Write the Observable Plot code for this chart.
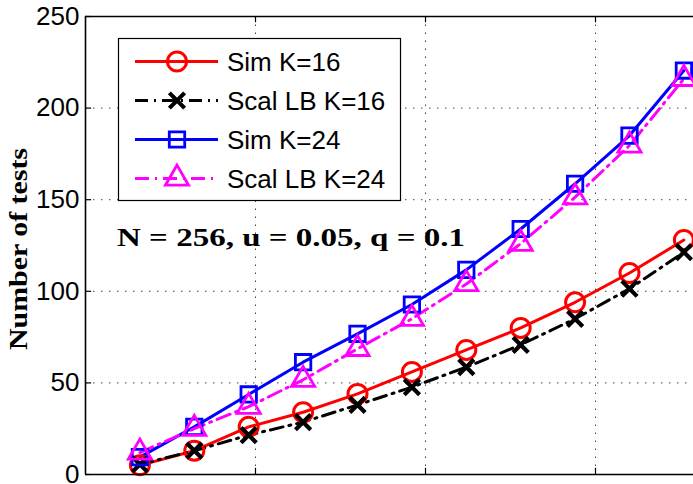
<!DOCTYPE html>
<html><head><meta charset="utf-8">
<script src="https://cdn.jsdelivr.net/npm/d3@7"></script>
<script src="https://cdn.jsdelivr.net/npm/@observablehq/plot@0.6"></script>
<style>body{margin:0;background:#fff;overflow:hidden}</style>
</head><body><div id="chart"></div>
<script>
// ---- data ----
const xs = [0.032, 0.064, 0.096, 0.128, 0.160, 0.192, 0.224, 0.256, 0.288, 0.320, 0.352];
const simK16 = [5, 13, 26, 34, 44, 56, 68, 80, 94, 110, 128];
const lbK16  = [5.5, 13, 21.5, 28.6, 38, 47.7, 58.6, 70.8, 85, 101.4, 121.4];
const simK24 = [9.5, 26, 43.7, 61.3, 76.8, 92.8, 111.7, 134, 158.7, 185, 220.5];
const lbK24  = [12, 25, 37, 51.7, 68.6, 85, 104, 126, 151.4, 179.6, 216];
const seriesNames = ["Sim K=16", "Scal LB K=16", "Sim K=24", "Scal LB K=24"];
const yTicks = [0, 50, 100, 150, 200, 250];
const yGrid = [50, 100, 150, 200];
const xGrid = [0.1, 0.2, 0.3];
const yLabel = "Number of tests";
const annotation = "N = 256, u = 0.05, q = 0.1";

// ---- styles ----
const styles = [
  {color: "#ff0000", dash: null, symbol: "circle", r: 9.5, sw: 3},
  {color: "#000000", dash: "13,6,2,6", symbol: "times", r: 7, sw: 4.2},
  {color: "#0000ff", dash: null, symbol: "square", r: 8.7, sw: 2.8},
  {color: "#ff00ff", dash: "14,6,2,6", symbol: "triangle", r: 8.6, sw: 2.8}
];
const valuesList = [simK16, lbK16, simK24, lbK24];
const series = seriesNames.map((name, i) => xs.map((x, j) => ({x, y: valuesList[i][j], name})));

const lineMarks = [];
series.forEach((data, i) => {
  const s = styles[i];
  lineMarks.push(Plot.line(data, {x: "x", y: "y", stroke: s.color, strokeWidth: 3, strokeDasharray: s.dash || undefined}));
});
const dotMarks = [];
series.forEach((data, i) => {
  const s = styles[i];
  dotMarks.push(Plot.dot(data, {x: "x", y: "y", symbol: s.symbol, r: s.r, stroke: s.color, strokeWidth: s.sw, fill: "none"}));
});

const gridStyle = {stroke: "#444", strokeWidth: 1, strokeDasharray: "1.5,6.5"};
const chart = Plot.plot({
  width: 693, height: 484,
  marginLeft: 85, marginTop: 16, marginBottom: 10, marginRight: 0,
  x: {domain: [0, 0.4], range: [85, 765], axis: null},
  y: {domain: [0, 250], range: [474, 16], axis: null},
  style: {fontFamily: "'Liberation Sans', Arial, sans-serif", background: "#fff", overflow: "hidden"},
  marks: [
    Plot.ruleY(yGrid, {x1: 0, x2: 0.4, ...gridStyle}),
    Plot.ruleX(xGrid, {y1: 0, y2: 250, ...gridStyle}),
    ...lineMarks,
    ...dotMarks,
    Plot.ruleY(yTicks, {x1: 0, x2: 0.0036, stroke: "#000", strokeWidth: 1.2}),
    Plot.ruleX(xGrid, {y1: 0, y2: 3.4, stroke: "#000", strokeWidth: 1.2}),
    Plot.ruleX(xGrid, {y1: 250, y2: 246.6, stroke: "#000", strokeWidth: 1.2}),
    Plot.ruleY([0, 250], {x1: 0, x2: 0.4, stroke: "#000", strokeWidth: 1.6}),
    Plot.ruleX([0], {y1: 0, y2: 250, stroke: "#000", strokeWidth: 1.6}),
    Plot.axisY(yTicks, {anchor: "left", label: null, tickSize: 0, tickPadding: 6, fontSize: 26, fill: "#000"})
  ]
});
document.getElementById("chart").appendChild(chart);

// ---- legend, annotation and y label ----
const svg = d3.select(chart);
const leg = svg.append("g");
leg.append("rect").attr("x", 118.5).attr("y", 38.5).attr("width", 282).attr("height", 162)
  .attr("fill", "#fff").attr("stroke", "#000").attr("stroke-width", 1.2);
seriesNames.forEach((name, i) => {
  const s = styles[i];
  const cy = 61.5 + i * 39;
  leg.append("line").attr("x1", 135).attr("x2", 218).attr("y1", cy).attr("y2", cy)
    .attr("stroke", s.color).attr("stroke-width", 3).attr("stroke-dasharray", s.dash);
  const sym = {circle: d3.symbolCircle, times: d3.symbolTimes, square: d3.symbolSquare, triangle: d3.symbolTriangle}[s.symbol];
  leg.append("path").attr("d", d3.symbol(sym, Math.PI * s.r * s.r)())
    .attr("transform", `translate(177,${cy})`).attr("fill", "none")
    .attr("stroke", s.color).attr("stroke-width", s.sw);
  leg.append("text").attr("x", 227).attr("y", cy + 9.5).text(name)
    .attr("text-anchor", "start").attr("font-size", 26).attr("fill", "#000");
});
svg.append("text").attr("x", 117).attr("y", 246).text(annotation)
  .attr("text-anchor", "start")
  .attr("font-family", "'Liberation Serif', serif").attr("font-weight", "bold")
  .attr("font-size", 26).attr("textLength", 348).attr("lengthAdjust", "spacingAndGlyphs").attr("fill", "#000");
svg.append("text").attr("transform", "translate(27,249) rotate(-90)").attr("text-anchor", "middle")
  .text(yLabel).attr("font-family", "'Liberation Serif', serif").attr("font-weight", "bold")
  .attr("font-size", 25).attr("textLength", 202).attr("lengthAdjust", "spacingAndGlyphs").attr("fill", "#000");
</script>
</body></html>
